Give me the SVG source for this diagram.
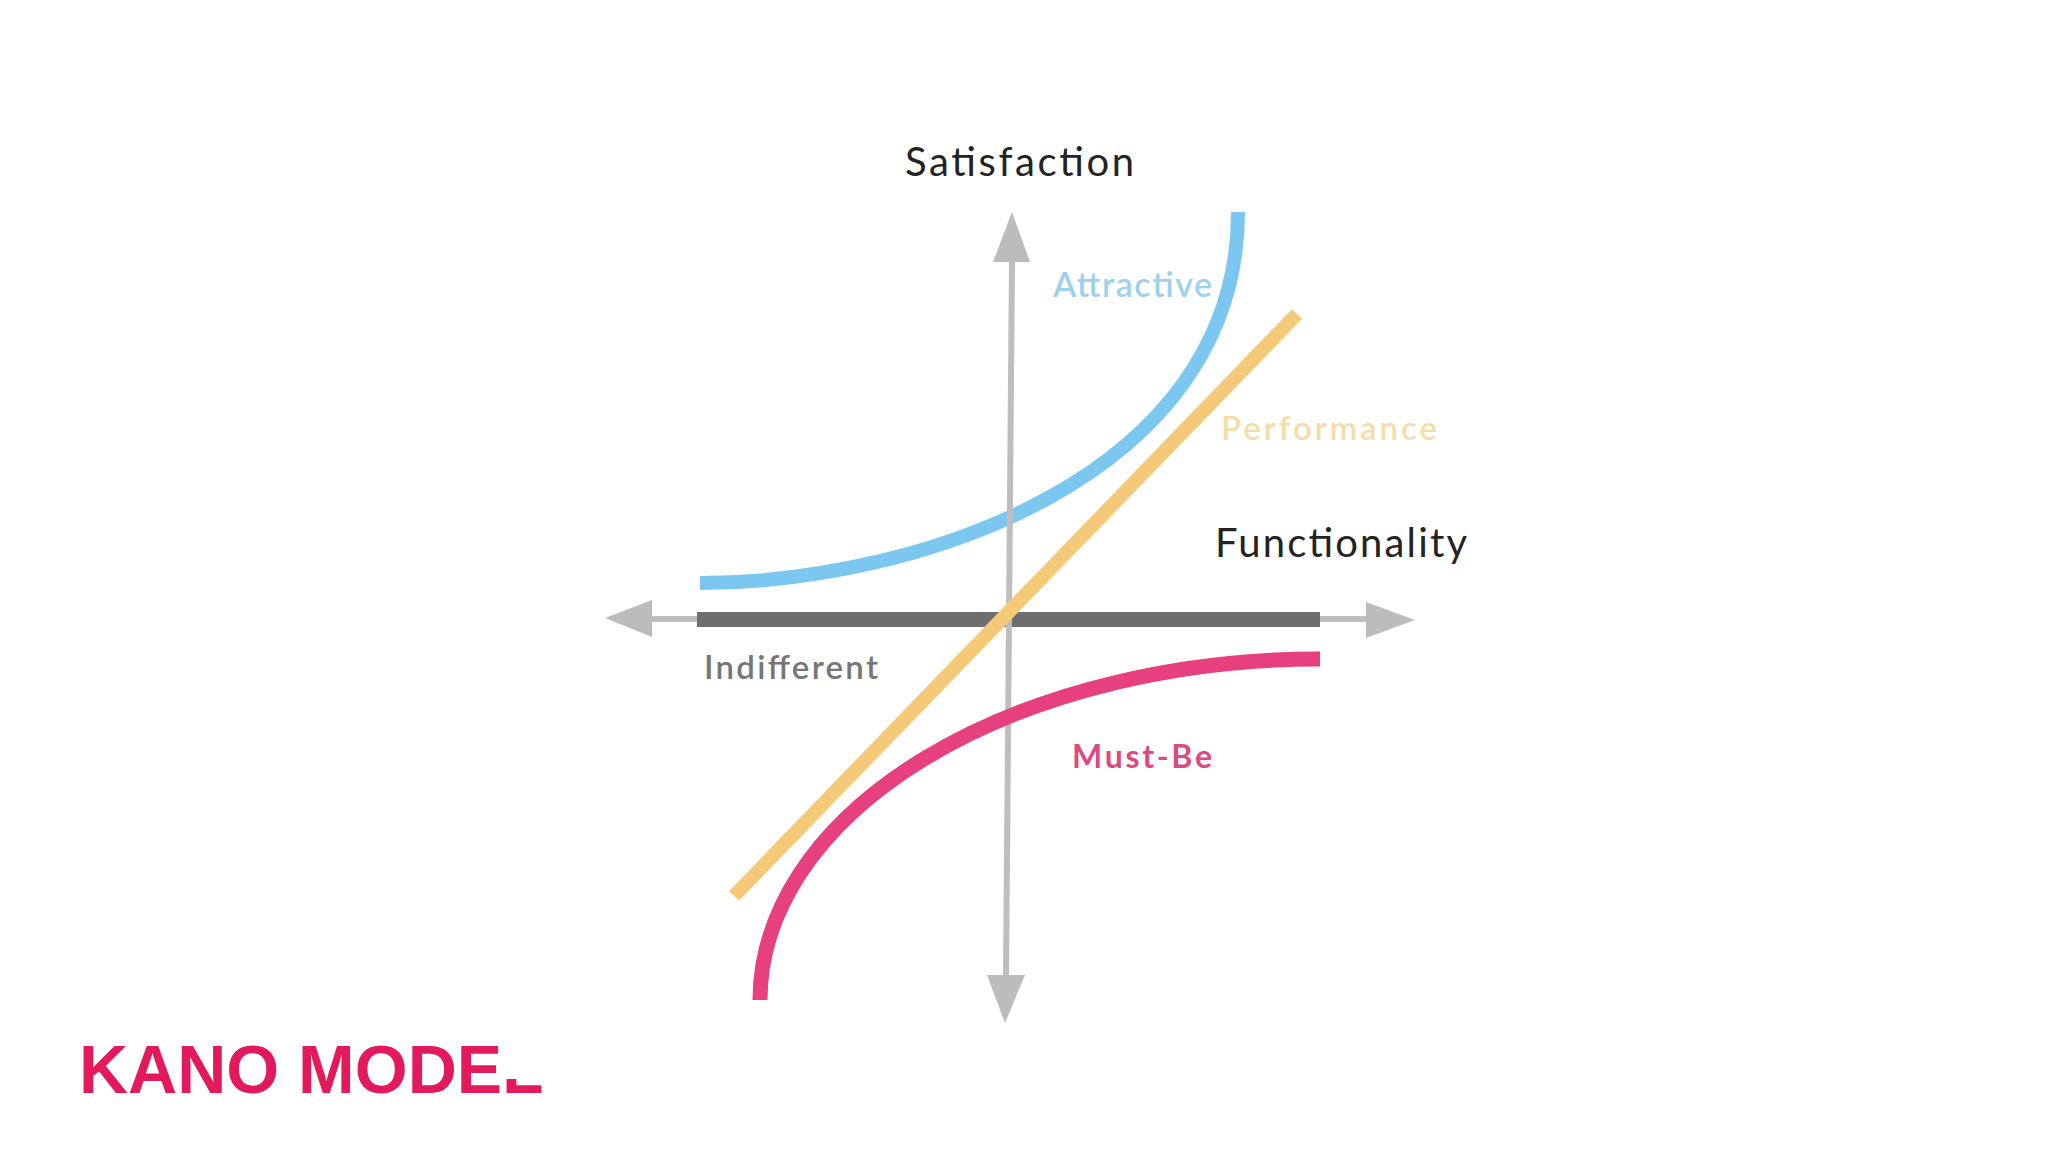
<svg xmlns="http://www.w3.org/2000/svg" width="2048" height="1152" viewBox="0 0 2048 1152">
  <style>
    .lbl { font-family: Lato, "Open Sans", "Liberation Sans", sans-serif; }
    .axis-title { fill: #232323; font-size: 40px; font-weight: 400; }
    .curve { fill: none; stroke-linecap: butt; }
    .axis { stroke: #BEBEBE; stroke-width: 6; fill: none; }
    .head { fill: #BCBCBC; }
  </style>
  <defs>
    <clipPath id="kanoClip">
      <rect x="0" y="0" width="506" height="1152"/>
      <rect x="506" y="1079" width="200" height="73"/>
    </clipPath>
  </defs>
  <rect width="2048" height="1152" fill="#FFFFFF"/>

  <g id="connectors">
    <line class="axis" x1="652" y1="619" x2="1366" y2="619"/>
    <polygon class="head" points="605,618 652,600 652,637"/>
    <polygon class="head" points="1415,620 1366,602 1366,638"/>
  </g>

  <g id="indifferent">
    <line x1="697" y1="619.5" x2="1320" y2="619.5" stroke="#6E6E6E" stroke-width="15"/>
    <text class="lbl" x="704" y="679" font-size="33" font-weight="600" fill="#767676" textLength="174">Indifferent</text>
  </g>

  <g id="attractive">
    <path class="curve" d="M700,583 C915,583 1238,478 1238,212" stroke="#7BC7EF" stroke-width="14"/>
    <text class="lbl" x="1053" y="297" font-size="34" font-weight="600" fill="#9DD2EE" textLength="159">Attractive</text>
  </g>

  <g id="satisfaction-axis">
    <line class="axis" x1="1012" y1="262" x2="1006" y2="975"/>
    <polygon class="head" points="1012,212 993,262 1030,262"/>
    <polygon class="head" points="1005,1023 987,975 1025,975"/>
    <text class="lbl axis-title" x="905" y="176" textLength="229">Satisfaction</text>
  </g>

  <g id="performance">
    <line class="curve" x1="734" y1="896" x2="1297" y2="314" stroke="#F4CA78" stroke-width="14"/>
    <text class="lbl" x="1221" y="440" font-size="33" font-weight="600" fill="#F6DDA8" textLength="216">Performance</text>
  </g>

  <g id="must-be">
    <path class="curve" d="M760,1000 A560,341 0 0 1 1320,659" stroke="#E6407E" stroke-width="15"/>
    <text class="lbl" x="1072" y="768" font-size="32" font-weight="700" fill="#DC4A82" textLength="140">Must-Be</text>
  </g>

  <g id="functionality">
    <text class="lbl axis-title" x="1215" y="557" textLength="252">Functionality</text>
  </g>

  <g id="title">
    <text x="79" y="1093" font-family="'Liberation Sans', Arial, sans-serif" font-size="68" font-weight="700" fill="#E2195B" clip-path="url(#kanoClip)">KANO MODEL</text>
  </g>
</svg>
